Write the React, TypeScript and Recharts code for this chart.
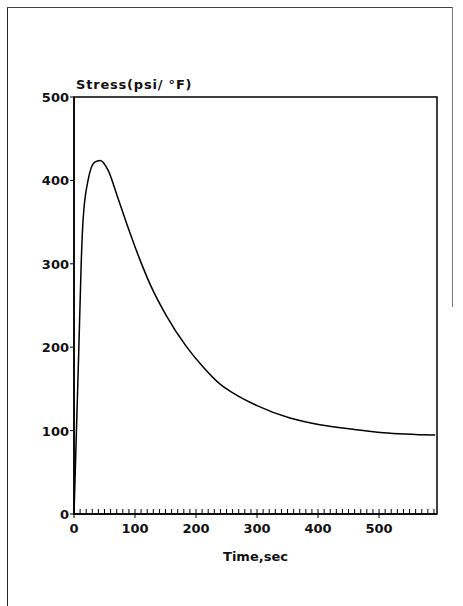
import { LineChart, Line, XAxis, YAxis, ReferenceArea } from "recharts";

// time (s) and thermal stress per degree
const timeSec = [0, 4, 8, 12, 15, 23, 34, 43, 56, 71, 86, 108, 125, 152, 184, 212, 239, 261, 300, 354, 403, 458, 507, 592];
const stress = [0, 100, 200, 305, 354, 400, 422, 424, 412, 381, 349, 305, 275, 237, 201, 176, 156, 145, 130, 115, 107, 101.5, 97.5, 94.7];

const xLabels = [0, 100, 200, 300, 400, 500];
const yLabels = [0, 100, 200, 300, 400, 500];
const xMinorStep = 10;
const xMax = 595;

const data = timeSec.map((t, i) => ({ t, s: stress[i] }));
const xTicks = Array.from({ length: Math.floor(xMax / xMinorStep) + 1 }, (_, i) => i * xMinorStep);

const font = { fontFamily: "'DejaVu Sans', sans-serif", fontWeight: 700, fontSize: 13, fill: "#111" };

const XTick = (props: any) => {
  const { x, y, payload } = props;
  const v = payload.value;
  const major = xLabels.includes(v);
  return (
    <g>
      <line x1={x} x2={x} y1={y - 5} y2={major ? y + 4 : y} stroke="#000" strokeWidth={1} />
      {major && (
        <text x={x} y={y + 19} textAnchor="middle" style={font}>
          {v}
        </text>
      )}
    </g>
  );
};

const YTick = (props: any) => {
  const { x, y, payload } = props;
  return (
    <g>
      <line x1={x - 4} x2={x} y1={y} y2={y} stroke="#000" strokeWidth={1} />
      <text x={x - 5} y={y + 5} textAnchor="end" style={font}>
        {payload.value}
      </text>
    </g>
  );
};

export default function App() {
  return (
    <div style={{ position: "absolute", left: 0, top: 0, width: 463, height: 606, background: "#fff" }}>
      <div style={{ position: "absolute", left: 7, top: 7, width: 0, height: 599, borderLeft: "1px solid #222" }} />
      <div style={{ position: "absolute", left: 7, top: 7, width: 445, height: 0, borderTop: "1px solid #444" }} />
      <div style={{ position: "absolute", left: 452, top: 7, width: 0, height: 300, borderLeft: "1px solid #777" }} />
      <div style={{ position: "absolute", left: 0, top: 0 }}>
        <LineChart width={463} height={606} data={data} margin={{ top: 97, right: 26, bottom: 0, left: 0 }}>
          <XAxis
            type="number"
            dataKey="t"
            domain={[0, xMax]}
            ticks={xTicks}
            interval={0}
            height={92}
            tickSize={0}
            tickMargin={0}
            tickLine={false}
            tick={<XTick />}
            axisLine={{ stroke: "#000", strokeWidth: 1.5 }}
            label={{
              content: (p: any) => (
                <text x={p.viewBox.x + p.viewBox.width / 2} y={p.viewBox.y + 47} textAnchor="middle" style={font}>
                  Time,sec
                </text>
              )
            }}
          />
          <YAxis
            type="number"
            domain={[0, 500]}
            ticks={yLabels}
            width={74}
            tickSize={0}
            tickMargin={0}
            tickLine={false}
            tick={<YTick />}
            axisLine={{ stroke: "#000", strokeWidth: 1.5 }}
            label={{
              content: (p: any) => (
                <text
                  x={p.viewBox.x + p.viewBox.width + 2}
                  y={p.viewBox.y - 8}
                  textAnchor="start"
                  style={{ ...font, letterSpacing: 0.8 }}
                >
                  Stress(psi/ °F)
                </text>
              )
            }}
          />
          <ReferenceArea x1={0} x2={xMax} y1={0} y2={500} fill="none" stroke="#000" strokeWidth={1.5} />
          <Line
            type="monotone"
            dataKey="s"
            stroke="#000"
            strokeWidth={1.5}
            dot={false}
            isAnimationActive={false}
          />
        </LineChart>
      </div>
    </div>
  );
}
